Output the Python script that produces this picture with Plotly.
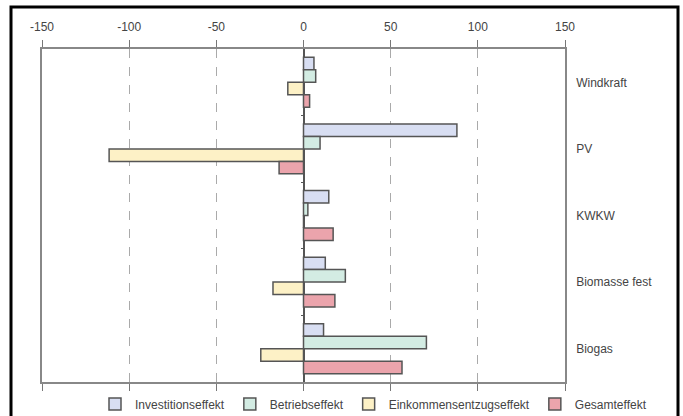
import plotly.graph_objects as go

categories = ["Windkraft", "PV", "KWKW", "Biomasse fest", "Biogas"]
investitionseffekt = [6, 88, 14.5, 12.5, 11.5]
betriebseffekt = [7, 9.5, 2.5, 24, 70.5]
einkommensentzugseffekt = [-9, -111.5, 0, -17.5, -24.5]
gesamteffekt = [3.5, -14, 17, 18, 56.5]
series_names = ["Investitionseffekt", "Betriebseffekt", "Einkommensentzugseffekt", "Gesamteffekt"]
series_colors = ["#d8def2", "#d3ece3", "#fdf1c6", "#eba4ac"]
x_ticks = [-150, -100, -50, 0, 50, 100, 150]
x_tick_labels = ["-150", "-100", "-50", "0", "50", "100", "150"]

fig = go.Figure()
for name, vals, col in zip(series_names,
                           [investitionseffekt, betriebseffekt, einkommensentzugseffekt, gesamteffekt],
                           series_colors):
    fig.add_trace(go.Bar(
        y=categories, x=vals, name=name, orientation="h",
        marker=dict(color=col, line=dict(color="#555555", width=1.5)),
    ))

# plot area geometry (px)
L, R, T, B = 42, 565, 49, 382
W, H = 683, 416
pw, ph = R - L, B - T

fig.update_layout(
    width=W, height=H,
    margin=dict(l=L, r=W - R, t=T, b=H - B, autoexpand=False),
    paper_bgcolor="white", plot_bgcolor="white",
    barmode="group", bargap=0.25, bargroupgap=0,
    font=dict(family="Liberation Sans, Arial, sans-serif", size=12, color="#444444"),
    showlegend=True,
    legend=dict(orientation="h",
                x=(652 - L) / pw, xanchor="right",
                y=(B - 404) / ph, yanchor="middle",
                font=dict(size=12, color="#444444"), itemwidth=30,
                traceorder="normal", bgcolor="rgba(0,0,0,0)"),
    xaxis=dict(
        side="top", range=[-150, 150], tickvals=x_ticks, ticktext=x_tick_labels,
        ticks="outside", ticklen=7, tickcolor="#777777", ticklabelstandoff=4,
        showline=True, linecolor="#888888", linewidth=1.5, mirror="ticks",
        showgrid=True, gridcolor="#aaaaaa", griddash="dash", gridwidth=1,
        zeroline=True, zerolinecolor="#555555", zerolinewidth=1.5,
        tickfont=dict(size=12, color="#444444"), fixedrange=True,
    ),
    yaxis=dict(
        side="right", range=[4.5, -0.5], type="category",
        showline=True, linecolor="#888888", linewidth=1.5, mirror=True,
        ticks="", showgrid=False, ticklabelstandoff=7,
        tickfont=dict(size=12, color="#444444"), fixedrange=True,
    ),
    yaxis2=dict(
        overlaying="y", anchor="free", position=0.5, side="left",
        range=[4.5, -0.5], type="linear",
        tickvals=[0.5, 1.5, 2.5, 3.5], showticklabels=False,
        ticks="outside", ticklen=3, tickcolor="#555555",
        showline=False, showgrid=False, zeroline=False, fixedrange=True,
    ),
    shapes=[dict(type="rect", xref="paper", yref="paper",
                 x0=(11 - L) / pw, x1=(678 - L) / pw,
                 y0=(B - 420) / ph, y1=(B - 7) / ph,
                 line=dict(color="black", width=3), fillcolor="rgba(0,0,0,0)")],
)
# invisible helper trace to activate yaxis2 (tick marks on the zero line)
fig.add_trace(go.Scatter(x=[0], y=[0], yaxis="y2", mode="markers",
                         marker=dict(opacity=0), showlegend=False, hoverinfo="skip"))

fig.write_html("out.html", config={"displayModeBar": False},
               post_script="document.body.style.margin='0px';")
